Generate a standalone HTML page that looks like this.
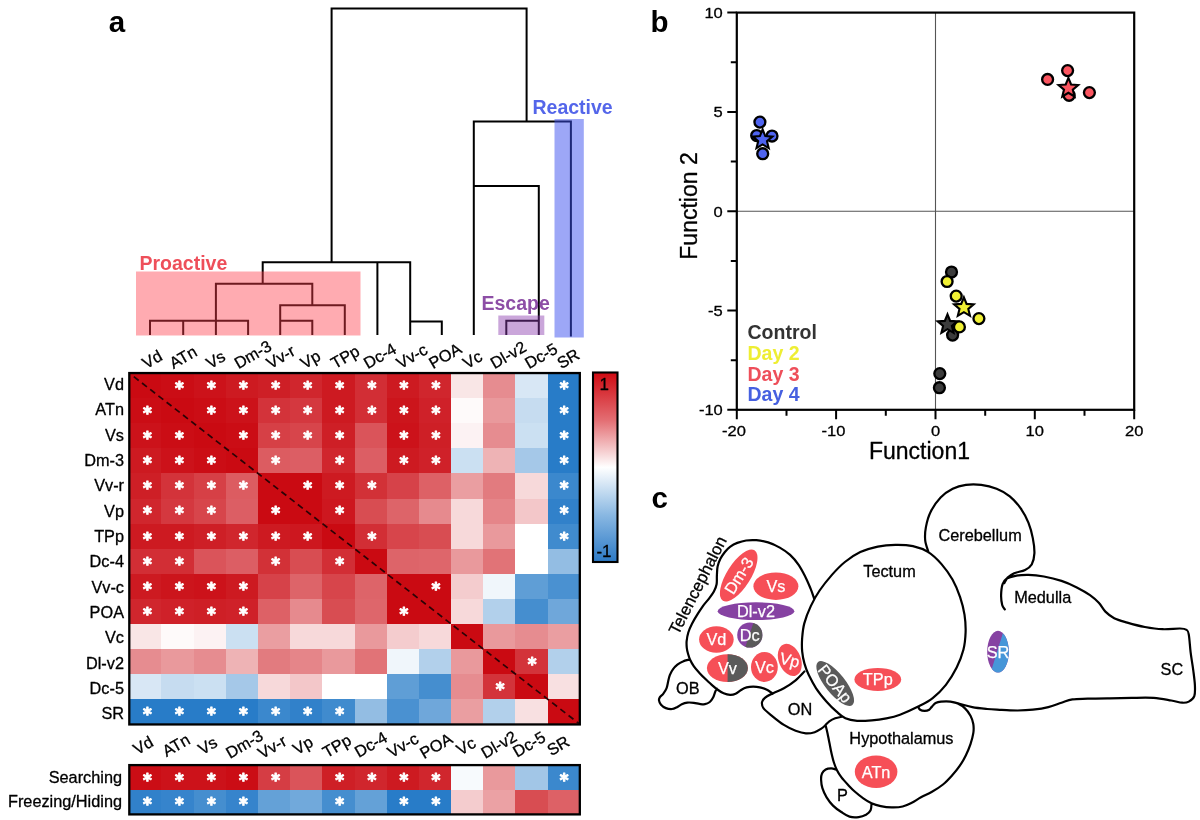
<!DOCTYPE html>
<html><head><meta charset="utf-8"><title>Figure</title>
<style>html,body{margin:0;padding:0;background:#fff}svg{display:block}text{stroke-linejoin:round}.k{stroke:#000;stroke-width:.3px}.w{stroke:#fff;stroke-width:.25px}</style></head>
<body>
<svg width="1200" height="820" viewBox="0 0 1200 820" font-family="'Liberation Sans', sans-serif">
<rect width="1200" height="820" fill="#fff"/>
<text x="108.8" y="31.5" font-size="29.5" font-weight="bold" fill="#000">a</text>
<text x="650.6" y="32" font-size="29.5" font-weight="bold" fill="#000">b</text>
<text x="651.6" y="507.6" font-size="29.5" font-weight="bold" fill="#000">c</text>
<path d="M331.6 8.5H526.6M331.6 7.5V262.0M526.6 7.5V121.5M473.8 121.5H570.9M570.9 120.5V336.5M473.8 120.5V335.0M473.8 186.0H538.8M538.8 185.0V335.0M506.3 320.8H538.8M506.3 319.8V335.0M262.7 262.3H410.2M262.7 261.3V283.8M377.4 262.0V335.0M410.2 261.3V335.0M410.2 321.4H441.8M441.8 320.4V335.0M215.9 283.8H312.3M215.9 282.8V335.0M312.3 282.8V305.2M150.0 320.8H248.1M150.0 319.8V335.0M183.2 320.8V335.0M248.1 319.8V335.0M280.2 305.2H344.8M280.2 304.2V335.0M344.8 304.2V335.0M280.2 320.8H312.3M312.3 319.8V335.0" fill="none" stroke="#000" stroke-width="2"/>
<rect x="136" y="271.5" width="224.5" height="64" fill="#ff3c4b" fill-opacity="0.43"/>
<rect x="498.3" y="315.5" width="46" height="19.5" fill="#8a3aae" fill-opacity="0.45"/>
<rect x="554.5" y="119" width="29.3" height="218.5" fill="#3c50f0" fill-opacity="0.5"/>
<text x="139.5" y="270" font-size="19.5" font-weight="bold" fill="#ee4f5a">Proactive</text>
<text x="481.5" y="310" font-size="19.5" font-weight="bold" fill="#8d4ea6">Escape</text>
<text x="532.5" y="114" font-size="19.5" font-weight="bold" fill="#5466ea">Reactive</text>
<text class="k" transform="translate(146.3 369.3) rotate(-30)" font-size="16.3" fill="#000">Vd</text>
<text class="k" transform="translate(173.5 369.3) rotate(-30)" font-size="16.3" fill="#000">ATn</text>
<text class="k" transform="translate(210.2 369.3) rotate(-30)" font-size="16.3" fill="#000">Vs</text>
<text class="k" transform="translate(238.4 369.3) rotate(-30)" font-size="16.3" fill="#000">Dm-3</text>
<text class="k" transform="translate(270.5 369.3) rotate(-30)" font-size="16.3" fill="#000">Vv-r</text>
<text class="k" transform="translate(304.6 369.3) rotate(-30)" font-size="16.3" fill="#000">Vp</text>
<text class="k" transform="translate(335.1 369.3) rotate(-30)" font-size="16.3" fill="#000">TPp</text>
<text class="k" transform="translate(367.7 369.3) rotate(-30)" font-size="16.3" fill="#000">Dc-4</text>
<text class="k" transform="translate(400.5 369.3) rotate(-30)" font-size="16.3" fill="#000">Vv-c</text>
<text class="k" transform="translate(433.1 369.3) rotate(-30)" font-size="16.3" fill="#000">POA</text>
<text class="k" transform="translate(467.1 369.3) rotate(-30)" font-size="16.3" fill="#000">Vc</text>
<text class="k" transform="translate(494.6 369.3) rotate(-30)" font-size="16.3" fill="#000">Dl-v2</text>
<text class="k" transform="translate(529.1 369.3) rotate(-30)" font-size="16.3" fill="#000">Dc-5</text>
<text class="k" transform="translate(561.2 369.3) rotate(-30)" font-size="16.3" fill="#000">SR</text>
<text class="k" transform="translate(137.3 755.3) rotate(-30)" font-size="16.3" fill="#000">Vd</text>
<text class="k" transform="translate(166.5 757.3) rotate(-30)" font-size="16.3" fill="#000">ATn</text>
<text class="k" transform="translate(202.2 755.3) rotate(-30)" font-size="16.3" fill="#000">Vs</text>
<text class="k" transform="translate(230.0 758.9) rotate(-30)" font-size="16.3" fill="#000">Dm-3</text>
<text class="k" transform="translate(262.1 759.3) rotate(-30)" font-size="16.3" fill="#000">Vv-r</text>
<text class="k" transform="translate(297.0 755.3) rotate(-30)" font-size="16.3" fill="#000">Vp</text>
<text class="k" transform="translate(326.7 758.3) rotate(-30)" font-size="16.3" fill="#000">TPp</text>
<text class="k" transform="translate(358.7 757.9) rotate(-30)" font-size="16.3" fill="#000">Dc-4</text>
<text class="k" transform="translate(391.5 758.3) rotate(-30)" font-size="16.3" fill="#000">Vv-c</text>
<text class="k" transform="translate(424.1 759.3) rotate(-30)" font-size="16.3" fill="#000">POA</text>
<text class="k" transform="translate(460.5 755.7) rotate(-30)" font-size="16.3" fill="#000">Vc</text>
<text class="k" transform="translate(485.2 758.9) rotate(-30)" font-size="16.3" fill="#000">Dl-v2</text>
<text class="k" transform="translate(517.1 757.7) rotate(-30)" font-size="16.3" fill="#000">Dc-5</text>
<text class="k" transform="translate(551.2 756.3) rotate(-30)" font-size="16.3" fill="#000">SR</text>
<rect x="129.30" y="373.05" width="32.48" height="25.40" fill="#ca0a12" shape-rendering="crispEdges"/>
<rect x="161.48" y="373.05" width="32.48" height="25.40" fill="#cb0d15" shape-rendering="crispEdges"/>
<rect x="193.66" y="373.05" width="32.48" height="25.40" fill="#cc121a" shape-rendering="crispEdges"/>
<rect x="225.84" y="373.05" width="32.48" height="25.40" fill="#cd1a21" shape-rendering="crispEdges"/>
<rect x="258.02" y="373.05" width="32.48" height="25.40" fill="#ce1f26" shape-rendering="crispEdges"/>
<rect x="290.20" y="373.05" width="32.48" height="25.40" fill="#d0262d" shape-rendering="crispEdges"/>
<rect x="322.38" y="373.05" width="32.48" height="25.40" fill="#cd1a21" shape-rendering="crispEdges"/>
<rect x="354.56" y="373.05" width="32.48" height="25.40" fill="#d22e35" shape-rendering="crispEdges"/>
<rect x="386.74" y="373.05" width="32.48" height="25.40" fill="#cd1a21" shape-rendering="crispEdges"/>
<rect x="418.92" y="373.05" width="32.48" height="25.40" fill="#d0262d" shape-rendering="crispEdges"/>
<rect x="451.10" y="373.05" width="32.48" height="25.40" fill="#f9e6e6" shape-rendering="crispEdges"/>
<rect x="483.28" y="373.05" width="32.48" height="25.40" fill="#e68c90" shape-rendering="crispEdges"/>
<rect x="515.46" y="373.05" width="32.48" height="25.40" fill="#d8e7f5" shape-rendering="crispEdges"/>
<rect x="547.64" y="373.05" width="32.48" height="25.40" fill="#287cc8" shape-rendering="crispEdges"/>
<rect x="129.30" y="398.15" width="32.48" height="25.40" fill="#cb0d15" shape-rendering="crispEdges"/>
<rect x="161.48" y="398.15" width="32.48" height="25.40" fill="#ca0a12" shape-rendering="crispEdges"/>
<rect x="193.66" y="398.15" width="32.48" height="25.40" fill="#cb0d15" shape-rendering="crispEdges"/>
<rect x="225.84" y="398.15" width="32.48" height="25.40" fill="#cc121a" shape-rendering="crispEdges"/>
<rect x="258.02" y="398.15" width="32.48" height="25.40" fill="#d3333a" shape-rendering="crispEdges"/>
<rect x="290.20" y="398.15" width="32.48" height="25.40" fill="#d4383f" shape-rendering="crispEdges"/>
<rect x="322.38" y="398.15" width="32.48" height="25.40" fill="#cd1a21" shape-rendering="crispEdges"/>
<rect x="354.56" y="398.15" width="32.48" height="25.40" fill="#d22e35" shape-rendering="crispEdges"/>
<rect x="386.74" y="398.15" width="32.48" height="25.40" fill="#cc151c" shape-rendering="crispEdges"/>
<rect x="418.92" y="398.15" width="32.48" height="25.40" fill="#cf2129" shape-rendering="crispEdges"/>
<rect x="451.10" y="398.15" width="32.48" height="25.40" fill="#fefafa" shape-rendering="crispEdges"/>
<rect x="483.28" y="398.15" width="32.48" height="25.40" fill="#e9999c" shape-rendering="crispEdges"/>
<rect x="515.46" y="398.15" width="32.48" height="25.40" fill="#c6dcf0" shape-rendering="crispEdges"/>
<rect x="547.64" y="398.15" width="32.48" height="25.40" fill="#287cc8" shape-rendering="crispEdges"/>
<rect x="129.30" y="423.25" width="32.48" height="25.40" fill="#cc121a" shape-rendering="crispEdges"/>
<rect x="161.48" y="423.25" width="32.48" height="25.40" fill="#cb0d15" shape-rendering="crispEdges"/>
<rect x="193.66" y="423.25" width="32.48" height="25.40" fill="#ca0a12" shape-rendering="crispEdges"/>
<rect x="225.84" y="423.25" width="32.48" height="25.40" fill="#cb0d15" shape-rendering="crispEdges"/>
<rect x="258.02" y="423.25" width="32.48" height="25.40" fill="#d64046" shape-rendering="crispEdges"/>
<rect x="290.20" y="423.25" width="32.48" height="25.40" fill="#d7454b" shape-rendering="crispEdges"/>
<rect x="322.38" y="423.25" width="32.48" height="25.40" fill="#ce1f26" shape-rendering="crispEdges"/>
<rect x="354.56" y="423.25" width="32.48" height="25.40" fill="#da545a" shape-rendering="crispEdges"/>
<rect x="386.74" y="423.25" width="32.48" height="25.40" fill="#cc121a" shape-rendering="crispEdges"/>
<rect x="418.92" y="423.25" width="32.48" height="25.40" fill="#ce1f26" shape-rendering="crispEdges"/>
<rect x="451.10" y="423.25" width="32.48" height="25.40" fill="#fcf2f3" shape-rendering="crispEdges"/>
<rect x="483.28" y="423.25" width="32.48" height="25.40" fill="#e68c90" shape-rendering="crispEdges"/>
<rect x="515.46" y="423.25" width="32.48" height="25.40" fill="#cbe0f2" shape-rendering="crispEdges"/>
<rect x="547.64" y="423.25" width="32.48" height="25.40" fill="#287cc8" shape-rendering="crispEdges"/>
<rect x="129.30" y="448.35" width="32.48" height="25.40" fill="#cd1a21" shape-rendering="crispEdges"/>
<rect x="161.48" y="448.35" width="32.48" height="25.40" fill="#cc121a" shape-rendering="crispEdges"/>
<rect x="193.66" y="448.35" width="32.48" height="25.40" fill="#cb0d15" shape-rendering="crispEdges"/>
<rect x="225.84" y="448.35" width="32.48" height="25.40" fill="#ca0a12" shape-rendering="crispEdges"/>
<rect x="258.02" y="448.35" width="32.48" height="25.40" fill="#dc5c61" shape-rendering="crispEdges"/>
<rect x="290.20" y="448.35" width="32.48" height="25.40" fill="#dc5e64" shape-rendering="crispEdges"/>
<rect x="322.38" y="448.35" width="32.48" height="25.40" fill="#d0262d" shape-rendering="crispEdges"/>
<rect x="354.56" y="448.35" width="32.48" height="25.40" fill="#dc5e64" shape-rendering="crispEdges"/>
<rect x="386.74" y="448.35" width="32.48" height="25.40" fill="#cd1a21" shape-rendering="crispEdges"/>
<rect x="418.92" y="448.35" width="32.48" height="25.40" fill="#cf2129" shape-rendering="crispEdges"/>
<rect x="451.10" y="448.35" width="32.48" height="25.40" fill="#cbe0f2" shape-rendering="crispEdges"/>
<rect x="483.28" y="448.35" width="32.48" height="25.40" fill="#eeb3b5" shape-rendering="crispEdges"/>
<rect x="515.46" y="448.35" width="32.48" height="25.40" fill="#a5c8e8" shape-rendering="crispEdges"/>
<rect x="547.64" y="448.35" width="32.48" height="25.40" fill="#287cc8" shape-rendering="crispEdges"/>
<rect x="129.30" y="473.45" width="32.48" height="25.40" fill="#ce1f26" shape-rendering="crispEdges"/>
<rect x="161.48" y="473.45" width="32.48" height="25.40" fill="#d3333a" shape-rendering="crispEdges"/>
<rect x="193.66" y="473.45" width="32.48" height="25.40" fill="#d64046" shape-rendering="crispEdges"/>
<rect x="225.84" y="473.45" width="32.48" height="25.40" fill="#dc5c61" shape-rendering="crispEdges"/>
<rect x="258.02" y="473.45" width="32.48" height="25.40" fill="#ca0a12" shape-rendering="crispEdges"/>
<rect x="290.20" y="473.45" width="32.48" height="25.40" fill="#ca0a12" shape-rendering="crispEdges"/>
<rect x="322.38" y="473.45" width="32.48" height="25.40" fill="#cd1a21" shape-rendering="crispEdges"/>
<rect x="354.56" y="473.45" width="32.48" height="25.40" fill="#d23137" shape-rendering="crispEdges"/>
<rect x="386.74" y="473.45" width="32.48" height="25.40" fill="#d64249" shape-rendering="crispEdges"/>
<rect x="418.92" y="473.45" width="32.48" height="25.40" fill="#dd6166" shape-rendering="crispEdges"/>
<rect x="451.10" y="473.45" width="32.48" height="25.40" fill="#ea9ea1" shape-rendering="crispEdges"/>
<rect x="483.28" y="473.45" width="32.48" height="25.40" fill="#e27b7f" shape-rendering="crispEdges"/>
<rect x="515.46" y="473.45" width="32.48" height="25.40" fill="#f7d9da" shape-rendering="crispEdges"/>
<rect x="547.64" y="473.45" width="32.48" height="25.40" fill="#3b88cd" shape-rendering="crispEdges"/>
<rect x="129.30" y="498.55" width="32.48" height="25.40" fill="#d0262d" shape-rendering="crispEdges"/>
<rect x="161.48" y="498.55" width="32.48" height="25.40" fill="#d4383f" shape-rendering="crispEdges"/>
<rect x="193.66" y="498.55" width="32.48" height="25.40" fill="#d7454b" shape-rendering="crispEdges"/>
<rect x="225.84" y="498.55" width="32.48" height="25.40" fill="#dc5e64" shape-rendering="crispEdges"/>
<rect x="258.02" y="498.55" width="32.48" height="25.40" fill="#ca0a12" shape-rendering="crispEdges"/>
<rect x="290.20" y="498.55" width="32.48" height="25.40" fill="#ca0a12" shape-rendering="crispEdges"/>
<rect x="322.38" y="498.55" width="32.48" height="25.40" fill="#cd171f" shape-rendering="crispEdges"/>
<rect x="354.56" y="498.55" width="32.48" height="25.40" fill="#d84d52" shape-rendering="crispEdges"/>
<rect x="386.74" y="498.55" width="32.48" height="25.40" fill="#dd6469" shape-rendering="crispEdges"/>
<rect x="418.92" y="498.55" width="32.48" height="25.40" fill="#e68a8e" shape-rendering="crispEdges"/>
<rect x="451.10" y="498.55" width="32.48" height="25.40" fill="#f7d9da" shape-rendering="crispEdges"/>
<rect x="483.28" y="498.55" width="32.48" height="25.40" fill="#e58589" shape-rendering="crispEdges"/>
<rect x="515.46" y="498.55" width="32.48" height="25.40" fill="#f3c7c9" shape-rendering="crispEdges"/>
<rect x="547.64" y="498.55" width="32.48" height="25.40" fill="#3181ca" shape-rendering="crispEdges"/>
<rect x="129.30" y="523.65" width="32.48" height="25.40" fill="#cd1a21" shape-rendering="crispEdges"/>
<rect x="161.48" y="523.65" width="32.48" height="25.40" fill="#cd1a21" shape-rendering="crispEdges"/>
<rect x="193.66" y="523.65" width="32.48" height="25.40" fill="#ce1f26" shape-rendering="crispEdges"/>
<rect x="225.84" y="523.65" width="32.48" height="25.40" fill="#d0262d" shape-rendering="crispEdges"/>
<rect x="258.02" y="523.65" width="32.48" height="25.40" fill="#cd1a21" shape-rendering="crispEdges"/>
<rect x="290.20" y="523.65" width="32.48" height="25.40" fill="#cd171f" shape-rendering="crispEdges"/>
<rect x="322.38" y="523.65" width="32.48" height="25.40" fill="#ca0a12" shape-rendering="crispEdges"/>
<rect x="354.56" y="523.65" width="32.48" height="25.40" fill="#d22e35" shape-rendering="crispEdges"/>
<rect x="386.74" y="523.65" width="32.48" height="25.40" fill="#d7454b" shape-rendering="crispEdges"/>
<rect x="418.92" y="523.65" width="32.48" height="25.40" fill="#d84d52" shape-rendering="crispEdges"/>
<rect x="451.10" y="523.65" width="32.48" height="25.40" fill="#f7d9da" shape-rendering="crispEdges"/>
<rect x="483.28" y="523.65" width="32.48" height="25.40" fill="#e9999c" shape-rendering="crispEdges"/>
<rect x="515.46" y="523.65" width="32.48" height="25.40" fill="#ffffff" shape-rendering="crispEdges"/>
<rect x="547.64" y="523.65" width="32.48" height="25.40" fill="#408bce" shape-rendering="crispEdges"/>
<rect x="129.30" y="548.75" width="32.48" height="25.40" fill="#d22e35" shape-rendering="crispEdges"/>
<rect x="161.48" y="548.75" width="32.48" height="25.40" fill="#d22e35" shape-rendering="crispEdges"/>
<rect x="193.66" y="548.75" width="32.48" height="25.40" fill="#da545a" shape-rendering="crispEdges"/>
<rect x="225.84" y="548.75" width="32.48" height="25.40" fill="#dc5e64" shape-rendering="crispEdges"/>
<rect x="258.02" y="548.75" width="32.48" height="25.40" fill="#d23137" shape-rendering="crispEdges"/>
<rect x="290.20" y="548.75" width="32.48" height="25.40" fill="#d84d52" shape-rendering="crispEdges"/>
<rect x="322.38" y="548.75" width="32.48" height="25.40" fill="#d22e35" shape-rendering="crispEdges"/>
<rect x="354.56" y="548.75" width="32.48" height="25.40" fill="#ca0a12" shape-rendering="crispEdges"/>
<rect x="386.74" y="548.75" width="32.48" height="25.40" fill="#dd6469" shape-rendering="crispEdges"/>
<rect x="418.92" y="548.75" width="32.48" height="25.40" fill="#de666b" shape-rendering="crispEdges"/>
<rect x="451.10" y="548.75" width="32.48" height="25.40" fill="#e9999c" shape-rendering="crispEdges"/>
<rect x="483.28" y="548.75" width="32.48" height="25.40" fill="#e17377" shape-rendering="crispEdges"/>
<rect x="515.46" y="548.75" width="32.48" height="25.40" fill="#ffffff" shape-rendering="crispEdges"/>
<rect x="547.64" y="548.75" width="32.48" height="25.40" fill="#93bde3" shape-rendering="crispEdges"/>
<rect x="129.30" y="573.85" width="32.48" height="25.40" fill="#cd1a21" shape-rendering="crispEdges"/>
<rect x="161.48" y="573.85" width="32.48" height="25.40" fill="#cc151c" shape-rendering="crispEdges"/>
<rect x="193.66" y="573.85" width="32.48" height="25.40" fill="#cc121a" shape-rendering="crispEdges"/>
<rect x="225.84" y="573.85" width="32.48" height="25.40" fill="#cd1a21" shape-rendering="crispEdges"/>
<rect x="258.02" y="573.85" width="32.48" height="25.40" fill="#d64249" shape-rendering="crispEdges"/>
<rect x="290.20" y="573.85" width="32.48" height="25.40" fill="#dd6469" shape-rendering="crispEdges"/>
<rect x="322.38" y="573.85" width="32.48" height="25.40" fill="#d7454b" shape-rendering="crispEdges"/>
<rect x="354.56" y="573.85" width="32.48" height="25.40" fill="#dd6469" shape-rendering="crispEdges"/>
<rect x="386.74" y="573.85" width="32.48" height="25.40" fill="#ca0a12" shape-rendering="crispEdges"/>
<rect x="418.92" y="573.85" width="32.48" height="25.40" fill="#ca0a12" shape-rendering="crispEdges"/>
<rect x="451.10" y="573.85" width="32.48" height="25.40" fill="#f4ccce" shape-rendering="crispEdges"/>
<rect x="483.28" y="573.85" width="32.48" height="25.40" fill="#f0f6fb" shape-rendering="crispEdges"/>
<rect x="515.46" y="573.85" width="32.48" height="25.40" fill="#5f9ed6" shape-rendering="crispEdges"/>
<rect x="547.64" y="573.85" width="32.48" height="25.40" fill="#4a91d1" shape-rendering="crispEdges"/>
<rect x="129.30" y="598.95" width="32.48" height="25.40" fill="#d0262d" shape-rendering="crispEdges"/>
<rect x="161.48" y="598.95" width="32.48" height="25.40" fill="#cf2129" shape-rendering="crispEdges"/>
<rect x="193.66" y="598.95" width="32.48" height="25.40" fill="#ce1f26" shape-rendering="crispEdges"/>
<rect x="225.84" y="598.95" width="32.48" height="25.40" fill="#cf2129" shape-rendering="crispEdges"/>
<rect x="258.02" y="598.95" width="32.48" height="25.40" fill="#dd6166" shape-rendering="crispEdges"/>
<rect x="290.20" y="598.95" width="32.48" height="25.40" fill="#e68a8e" shape-rendering="crispEdges"/>
<rect x="322.38" y="598.95" width="32.48" height="25.40" fill="#d84d52" shape-rendering="crispEdges"/>
<rect x="354.56" y="598.95" width="32.48" height="25.40" fill="#de666b" shape-rendering="crispEdges"/>
<rect x="386.74" y="598.95" width="32.48" height="25.40" fill="#ca0a12" shape-rendering="crispEdges"/>
<rect x="418.92" y="598.95" width="32.48" height="25.40" fill="#ca0a12" shape-rendering="crispEdges"/>
<rect x="451.10" y="598.95" width="32.48" height="25.40" fill="#f7d9da" shape-rendering="crispEdges"/>
<rect x="483.28" y="598.95" width="32.48" height="25.40" fill="#b2d0eb" shape-rendering="crispEdges"/>
<rect x="515.46" y="598.95" width="32.48" height="25.40" fill="#458ecf" shape-rendering="crispEdges"/>
<rect x="547.64" y="598.95" width="32.48" height="25.40" fill="#6fa7da" shape-rendering="crispEdges"/>
<rect x="129.30" y="624.05" width="32.48" height="25.40" fill="#f9e6e6" shape-rendering="crispEdges"/>
<rect x="161.48" y="624.05" width="32.48" height="25.40" fill="#fefafa" shape-rendering="crispEdges"/>
<rect x="193.66" y="624.05" width="32.48" height="25.40" fill="#fcf2f3" shape-rendering="crispEdges"/>
<rect x="225.84" y="624.05" width="32.48" height="25.40" fill="#cbe0f2" shape-rendering="crispEdges"/>
<rect x="258.02" y="624.05" width="32.48" height="25.40" fill="#ea9ea1" shape-rendering="crispEdges"/>
<rect x="290.20" y="624.05" width="32.48" height="25.40" fill="#f7d9da" shape-rendering="crispEdges"/>
<rect x="322.38" y="624.05" width="32.48" height="25.40" fill="#f7d9da" shape-rendering="crispEdges"/>
<rect x="354.56" y="624.05" width="32.48" height="25.40" fill="#e9999c" shape-rendering="crispEdges"/>
<rect x="386.74" y="624.05" width="32.48" height="25.40" fill="#f4ccce" shape-rendering="crispEdges"/>
<rect x="418.92" y="624.05" width="32.48" height="25.40" fill="#f7d9da" shape-rendering="crispEdges"/>
<rect x="451.10" y="624.05" width="32.48" height="25.40" fill="#ca0a12" shape-rendering="crispEdges"/>
<rect x="483.28" y="624.05" width="32.48" height="25.40" fill="#e9999c" shape-rendering="crispEdges"/>
<rect x="515.46" y="624.05" width="32.48" height="25.40" fill="#e68c90" shape-rendering="crispEdges"/>
<rect x="547.64" y="624.05" width="32.48" height="25.40" fill="#ea9ea1" shape-rendering="crispEdges"/>
<rect x="129.30" y="649.15" width="32.48" height="25.40" fill="#e68c90" shape-rendering="crispEdges"/>
<rect x="161.48" y="649.15" width="32.48" height="25.40" fill="#e9999c" shape-rendering="crispEdges"/>
<rect x="193.66" y="649.15" width="32.48" height="25.40" fill="#e68c90" shape-rendering="crispEdges"/>
<rect x="225.84" y="649.15" width="32.48" height="25.40" fill="#eeb3b5" shape-rendering="crispEdges"/>
<rect x="258.02" y="649.15" width="32.48" height="25.40" fill="#e27b7f" shape-rendering="crispEdges"/>
<rect x="290.20" y="649.15" width="32.48" height="25.40" fill="#e58589" shape-rendering="crispEdges"/>
<rect x="322.38" y="649.15" width="32.48" height="25.40" fill="#e9999c" shape-rendering="crispEdges"/>
<rect x="354.56" y="649.15" width="32.48" height="25.40" fill="#e17377" shape-rendering="crispEdges"/>
<rect x="386.74" y="649.15" width="32.48" height="25.40" fill="#f0f6fb" shape-rendering="crispEdges"/>
<rect x="418.92" y="649.15" width="32.48" height="25.40" fill="#b2d0eb" shape-rendering="crispEdges"/>
<rect x="451.10" y="649.15" width="32.48" height="25.40" fill="#e9999c" shape-rendering="crispEdges"/>
<rect x="483.28" y="649.15" width="32.48" height="25.40" fill="#ca0a12" shape-rendering="crispEdges"/>
<rect x="515.46" y="649.15" width="32.48" height="25.40" fill="#d3333a" shape-rendering="crispEdges"/>
<rect x="547.64" y="649.15" width="32.48" height="25.40" fill="#b2d0eb" shape-rendering="crispEdges"/>
<rect x="129.30" y="674.25" width="32.48" height="25.40" fill="#d8e7f5" shape-rendering="crispEdges"/>
<rect x="161.48" y="674.25" width="32.48" height="25.40" fill="#c6dcf0" shape-rendering="crispEdges"/>
<rect x="193.66" y="674.25" width="32.48" height="25.40" fill="#cbe0f2" shape-rendering="crispEdges"/>
<rect x="225.84" y="674.25" width="32.48" height="25.40" fill="#a5c8e8" shape-rendering="crispEdges"/>
<rect x="258.02" y="674.25" width="32.48" height="25.40" fill="#f7d9da" shape-rendering="crispEdges"/>
<rect x="290.20" y="674.25" width="32.48" height="25.40" fill="#f3c7c9" shape-rendering="crispEdges"/>
<rect x="322.38" y="674.25" width="32.48" height="25.40" fill="#ffffff" shape-rendering="crispEdges"/>
<rect x="354.56" y="674.25" width="32.48" height="25.40" fill="#ffffff" shape-rendering="crispEdges"/>
<rect x="386.74" y="674.25" width="32.48" height="25.40" fill="#5f9ed6" shape-rendering="crispEdges"/>
<rect x="418.92" y="674.25" width="32.48" height="25.40" fill="#458ecf" shape-rendering="crispEdges"/>
<rect x="451.10" y="674.25" width="32.48" height="25.40" fill="#e68c90" shape-rendering="crispEdges"/>
<rect x="483.28" y="674.25" width="32.48" height="25.40" fill="#d3333a" shape-rendering="crispEdges"/>
<rect x="515.46" y="674.25" width="32.48" height="25.40" fill="#ca0a12" shape-rendering="crispEdges"/>
<rect x="547.64" y="674.25" width="32.48" height="25.40" fill="#f8e0e1" shape-rendering="crispEdges"/>
<rect x="129.30" y="699.35" width="32.48" height="25.40" fill="#287cc8" shape-rendering="crispEdges"/>
<rect x="161.48" y="699.35" width="32.48" height="25.40" fill="#287cc8" shape-rendering="crispEdges"/>
<rect x="193.66" y="699.35" width="32.48" height="25.40" fill="#287cc8" shape-rendering="crispEdges"/>
<rect x="225.84" y="699.35" width="32.48" height="25.40" fill="#287cc8" shape-rendering="crispEdges"/>
<rect x="258.02" y="699.35" width="32.48" height="25.40" fill="#3b88cd" shape-rendering="crispEdges"/>
<rect x="290.20" y="699.35" width="32.48" height="25.40" fill="#3181ca" shape-rendering="crispEdges"/>
<rect x="322.38" y="699.35" width="32.48" height="25.40" fill="#408bce" shape-rendering="crispEdges"/>
<rect x="354.56" y="699.35" width="32.48" height="25.40" fill="#93bde3" shape-rendering="crispEdges"/>
<rect x="386.74" y="699.35" width="32.48" height="25.40" fill="#4a91d1" shape-rendering="crispEdges"/>
<rect x="418.92" y="699.35" width="32.48" height="25.40" fill="#6fa7da" shape-rendering="crispEdges"/>
<rect x="451.10" y="699.35" width="32.48" height="25.40" fill="#ea9ea1" shape-rendering="crispEdges"/>
<rect x="483.28" y="699.35" width="32.48" height="25.40" fill="#b2d0eb" shape-rendering="crispEdges"/>
<rect x="515.46" y="699.35" width="32.48" height="25.40" fill="#f8e0e1" shape-rendering="crispEdges"/>
<rect x="547.64" y="699.35" width="32.48" height="25.40" fill="#ca0a12" shape-rendering="crispEdges"/>
<text x="179.4" y="393.9" text-anchor="middle" font-size="16.8" font-weight="bold" font-family="'DejaVu Sans', sans-serif" fill="#fff" stroke="#fff" stroke-width="1" stroke-linejoin="round">*</text>
<text x="211.4" y="393.9" text-anchor="middle" font-size="16.8" font-weight="bold" font-family="'DejaVu Sans', sans-serif" fill="#fff" stroke="#fff" stroke-width="1" stroke-linejoin="round">*</text>
<text x="243.5" y="393.9" text-anchor="middle" font-size="16.8" font-weight="bold" font-family="'DejaVu Sans', sans-serif" fill="#fff" stroke="#fff" stroke-width="1" stroke-linejoin="round">*</text>
<text x="275.6" y="393.9" text-anchor="middle" font-size="16.8" font-weight="bold" font-family="'DejaVu Sans', sans-serif" fill="#fff" stroke="#fff" stroke-width="1" stroke-linejoin="round">*</text>
<text x="307.6" y="393.9" text-anchor="middle" font-size="16.8" font-weight="bold" font-family="'DejaVu Sans', sans-serif" fill="#fff" stroke="#fff" stroke-width="1" stroke-linejoin="round">*</text>
<text x="339.7" y="393.9" text-anchor="middle" font-size="16.8" font-weight="bold" font-family="'DejaVu Sans', sans-serif" fill="#fff" stroke="#fff" stroke-width="1" stroke-linejoin="round">*</text>
<text x="371.8" y="393.9" text-anchor="middle" font-size="16.8" font-weight="bold" font-family="'DejaVu Sans', sans-serif" fill="#fff" stroke="#fff" stroke-width="1" stroke-linejoin="round">*</text>
<text x="403.9" y="393.9" text-anchor="middle" font-size="16.8" font-weight="bold" font-family="'DejaVu Sans', sans-serif" fill="#fff" stroke="#fff" stroke-width="1" stroke-linejoin="round">*</text>
<text x="435.9" y="393.9" text-anchor="middle" font-size="16.8" font-weight="bold" font-family="'DejaVu Sans', sans-serif" fill="#fff" stroke="#fff" stroke-width="1" stroke-linejoin="round">*</text>
<text x="564.2" y="393.9" text-anchor="middle" font-size="16.8" font-weight="bold" font-family="'DejaVu Sans', sans-serif" fill="#fff" stroke="#fff" stroke-width="1" stroke-linejoin="round">*</text>
<text class="k" x="124.0" y="390.0" text-anchor="end" font-size="16.3" fill="#000">Vd</text>
<text x="147.3" y="419.0" text-anchor="middle" font-size="16.8" font-weight="bold" font-family="'DejaVu Sans', sans-serif" fill="#fff" stroke="#fff" stroke-width="1" stroke-linejoin="round">*</text>
<text x="211.4" y="419.0" text-anchor="middle" font-size="16.8" font-weight="bold" font-family="'DejaVu Sans', sans-serif" fill="#fff" stroke="#fff" stroke-width="1" stroke-linejoin="round">*</text>
<text x="243.5" y="419.0" text-anchor="middle" font-size="16.8" font-weight="bold" font-family="'DejaVu Sans', sans-serif" fill="#fff" stroke="#fff" stroke-width="1" stroke-linejoin="round">*</text>
<text x="275.6" y="419.0" text-anchor="middle" font-size="16.8" font-weight="bold" font-family="'DejaVu Sans', sans-serif" fill="#fff" stroke="#fff" stroke-width="1" stroke-linejoin="round">*</text>
<text x="307.6" y="419.0" text-anchor="middle" font-size="16.8" font-weight="bold" font-family="'DejaVu Sans', sans-serif" fill="#fff" stroke="#fff" stroke-width="1" stroke-linejoin="round">*</text>
<text x="339.7" y="419.0" text-anchor="middle" font-size="16.8" font-weight="bold" font-family="'DejaVu Sans', sans-serif" fill="#fff" stroke="#fff" stroke-width="1" stroke-linejoin="round">*</text>
<text x="371.8" y="419.0" text-anchor="middle" font-size="16.8" font-weight="bold" font-family="'DejaVu Sans', sans-serif" fill="#fff" stroke="#fff" stroke-width="1" stroke-linejoin="round">*</text>
<text x="403.9" y="419.0" text-anchor="middle" font-size="16.8" font-weight="bold" font-family="'DejaVu Sans', sans-serif" fill="#fff" stroke="#fff" stroke-width="1" stroke-linejoin="round">*</text>
<text x="435.9" y="419.0" text-anchor="middle" font-size="16.8" font-weight="bold" font-family="'DejaVu Sans', sans-serif" fill="#fff" stroke="#fff" stroke-width="1" stroke-linejoin="round">*</text>
<text x="564.2" y="419.0" text-anchor="middle" font-size="16.8" font-weight="bold" font-family="'DejaVu Sans', sans-serif" fill="#fff" stroke="#fff" stroke-width="1" stroke-linejoin="round">*</text>
<text class="k" x="124.0" y="415.3" text-anchor="end" font-size="16.3" fill="#000">ATn</text>
<text x="147.3" y="444.1" text-anchor="middle" font-size="16.8" font-weight="bold" font-family="'DejaVu Sans', sans-serif" fill="#fff" stroke="#fff" stroke-width="1" stroke-linejoin="round">*</text>
<text x="179.4" y="444.1" text-anchor="middle" font-size="16.8" font-weight="bold" font-family="'DejaVu Sans', sans-serif" fill="#fff" stroke="#fff" stroke-width="1" stroke-linejoin="round">*</text>
<text x="243.5" y="444.1" text-anchor="middle" font-size="16.8" font-weight="bold" font-family="'DejaVu Sans', sans-serif" fill="#fff" stroke="#fff" stroke-width="1" stroke-linejoin="round">*</text>
<text x="275.6" y="444.1" text-anchor="middle" font-size="16.8" font-weight="bold" font-family="'DejaVu Sans', sans-serif" fill="#fff" stroke="#fff" stroke-width="1" stroke-linejoin="round">*</text>
<text x="307.6" y="444.1" text-anchor="middle" font-size="16.8" font-weight="bold" font-family="'DejaVu Sans', sans-serif" fill="#fff" stroke="#fff" stroke-width="1" stroke-linejoin="round">*</text>
<text x="339.7" y="444.1" text-anchor="middle" font-size="16.8" font-weight="bold" font-family="'DejaVu Sans', sans-serif" fill="#fff" stroke="#fff" stroke-width="1" stroke-linejoin="round">*</text>
<text x="403.9" y="444.1" text-anchor="middle" font-size="16.8" font-weight="bold" font-family="'DejaVu Sans', sans-serif" fill="#fff" stroke="#fff" stroke-width="1" stroke-linejoin="round">*</text>
<text x="435.9" y="444.1" text-anchor="middle" font-size="16.8" font-weight="bold" font-family="'DejaVu Sans', sans-serif" fill="#fff" stroke="#fff" stroke-width="1" stroke-linejoin="round">*</text>
<text x="564.2" y="444.1" text-anchor="middle" font-size="16.8" font-weight="bold" font-family="'DejaVu Sans', sans-serif" fill="#fff" stroke="#fff" stroke-width="1" stroke-linejoin="round">*</text>
<text class="k" x="124.0" y="440.7" text-anchor="end" font-size="16.3" fill="#000">Vs</text>
<text x="147.3" y="469.2" text-anchor="middle" font-size="16.8" font-weight="bold" font-family="'DejaVu Sans', sans-serif" fill="#fff" stroke="#fff" stroke-width="1" stroke-linejoin="round">*</text>
<text x="179.4" y="469.2" text-anchor="middle" font-size="16.8" font-weight="bold" font-family="'DejaVu Sans', sans-serif" fill="#fff" stroke="#fff" stroke-width="1" stroke-linejoin="round">*</text>
<text x="211.4" y="469.2" text-anchor="middle" font-size="16.8" font-weight="bold" font-family="'DejaVu Sans', sans-serif" fill="#fff" stroke="#fff" stroke-width="1" stroke-linejoin="round">*</text>
<text x="275.6" y="469.2" text-anchor="middle" font-size="16.8" font-weight="bold" font-family="'DejaVu Sans', sans-serif" fill="#fff" stroke="#fff" stroke-width="1" stroke-linejoin="round">*</text>
<text x="339.7" y="469.2" text-anchor="middle" font-size="16.8" font-weight="bold" font-family="'DejaVu Sans', sans-serif" fill="#fff" stroke="#fff" stroke-width="1" stroke-linejoin="round">*</text>
<text x="403.9" y="469.2" text-anchor="middle" font-size="16.8" font-weight="bold" font-family="'DejaVu Sans', sans-serif" fill="#fff" stroke="#fff" stroke-width="1" stroke-linejoin="round">*</text>
<text x="435.9" y="469.2" text-anchor="middle" font-size="16.8" font-weight="bold" font-family="'DejaVu Sans', sans-serif" fill="#fff" stroke="#fff" stroke-width="1" stroke-linejoin="round">*</text>
<text x="564.2" y="469.2" text-anchor="middle" font-size="16.8" font-weight="bold" font-family="'DejaVu Sans', sans-serif" fill="#fff" stroke="#fff" stroke-width="1" stroke-linejoin="round">*</text>
<text class="k" x="124.0" y="466.0" text-anchor="end" font-size="16.3" fill="#000">Dm-3</text>
<text x="147.3" y="494.3" text-anchor="middle" font-size="16.8" font-weight="bold" font-family="'DejaVu Sans', sans-serif" fill="#fff" stroke="#fff" stroke-width="1" stroke-linejoin="round">*</text>
<text x="179.4" y="494.3" text-anchor="middle" font-size="16.8" font-weight="bold" font-family="'DejaVu Sans', sans-serif" fill="#fff" stroke="#fff" stroke-width="1" stroke-linejoin="round">*</text>
<text x="211.4" y="494.3" text-anchor="middle" font-size="16.8" font-weight="bold" font-family="'DejaVu Sans', sans-serif" fill="#fff" stroke="#fff" stroke-width="1" stroke-linejoin="round">*</text>
<text x="243.5" y="494.3" text-anchor="middle" font-size="16.8" font-weight="bold" font-family="'DejaVu Sans', sans-serif" fill="#fff" stroke="#fff" stroke-width="1" stroke-linejoin="round">*</text>
<text x="307.6" y="494.3" text-anchor="middle" font-size="16.8" font-weight="bold" font-family="'DejaVu Sans', sans-serif" fill="#fff" stroke="#fff" stroke-width="1" stroke-linejoin="round">*</text>
<text x="339.7" y="494.3" text-anchor="middle" font-size="16.8" font-weight="bold" font-family="'DejaVu Sans', sans-serif" fill="#fff" stroke="#fff" stroke-width="1" stroke-linejoin="round">*</text>
<text x="371.8" y="494.3" text-anchor="middle" font-size="16.8" font-weight="bold" font-family="'DejaVu Sans', sans-serif" fill="#fff" stroke="#fff" stroke-width="1" stroke-linejoin="round">*</text>
<text x="564.2" y="494.3" text-anchor="middle" font-size="16.8" font-weight="bold" font-family="'DejaVu Sans', sans-serif" fill="#fff" stroke="#fff" stroke-width="1" stroke-linejoin="round">*</text>
<text class="k" x="124.0" y="491.3" text-anchor="end" font-size="16.3" fill="#000">Vv-r</text>
<text x="147.3" y="519.4" text-anchor="middle" font-size="16.8" font-weight="bold" font-family="'DejaVu Sans', sans-serif" fill="#fff" stroke="#fff" stroke-width="1" stroke-linejoin="round">*</text>
<text x="179.4" y="519.4" text-anchor="middle" font-size="16.8" font-weight="bold" font-family="'DejaVu Sans', sans-serif" fill="#fff" stroke="#fff" stroke-width="1" stroke-linejoin="round">*</text>
<text x="211.4" y="519.4" text-anchor="middle" font-size="16.8" font-weight="bold" font-family="'DejaVu Sans', sans-serif" fill="#fff" stroke="#fff" stroke-width="1" stroke-linejoin="round">*</text>
<text x="275.6" y="519.4" text-anchor="middle" font-size="16.8" font-weight="bold" font-family="'DejaVu Sans', sans-serif" fill="#fff" stroke="#fff" stroke-width="1" stroke-linejoin="round">*</text>
<text x="339.7" y="519.4" text-anchor="middle" font-size="16.8" font-weight="bold" font-family="'DejaVu Sans', sans-serif" fill="#fff" stroke="#fff" stroke-width="1" stroke-linejoin="round">*</text>
<text x="564.2" y="519.4" text-anchor="middle" font-size="16.8" font-weight="bold" font-family="'DejaVu Sans', sans-serif" fill="#fff" stroke="#fff" stroke-width="1" stroke-linejoin="round">*</text>
<text class="k" x="124.0" y="516.6" text-anchor="end" font-size="16.3" fill="#000">Vp</text>
<text x="147.3" y="544.5" text-anchor="middle" font-size="16.8" font-weight="bold" font-family="'DejaVu Sans', sans-serif" fill="#fff" stroke="#fff" stroke-width="1" stroke-linejoin="round">*</text>
<text x="179.4" y="544.5" text-anchor="middle" font-size="16.8" font-weight="bold" font-family="'DejaVu Sans', sans-serif" fill="#fff" stroke="#fff" stroke-width="1" stroke-linejoin="round">*</text>
<text x="211.4" y="544.5" text-anchor="middle" font-size="16.8" font-weight="bold" font-family="'DejaVu Sans', sans-serif" fill="#fff" stroke="#fff" stroke-width="1" stroke-linejoin="round">*</text>
<text x="243.5" y="544.5" text-anchor="middle" font-size="16.8" font-weight="bold" font-family="'DejaVu Sans', sans-serif" fill="#fff" stroke="#fff" stroke-width="1" stroke-linejoin="round">*</text>
<text x="275.6" y="544.5" text-anchor="middle" font-size="16.8" font-weight="bold" font-family="'DejaVu Sans', sans-serif" fill="#fff" stroke="#fff" stroke-width="1" stroke-linejoin="round">*</text>
<text x="307.6" y="544.5" text-anchor="middle" font-size="16.8" font-weight="bold" font-family="'DejaVu Sans', sans-serif" fill="#fff" stroke="#fff" stroke-width="1" stroke-linejoin="round">*</text>
<text x="371.8" y="544.5" text-anchor="middle" font-size="16.8" font-weight="bold" font-family="'DejaVu Sans', sans-serif" fill="#fff" stroke="#fff" stroke-width="1" stroke-linejoin="round">*</text>
<text x="564.2" y="544.5" text-anchor="middle" font-size="16.8" font-weight="bold" font-family="'DejaVu Sans', sans-serif" fill="#fff" stroke="#fff" stroke-width="1" stroke-linejoin="round">*</text>
<text class="k" x="124.0" y="542.0" text-anchor="end" font-size="16.3" fill="#000">TPp</text>
<text x="147.3" y="569.6" text-anchor="middle" font-size="16.8" font-weight="bold" font-family="'DejaVu Sans', sans-serif" fill="#fff" stroke="#fff" stroke-width="1" stroke-linejoin="round">*</text>
<text x="179.4" y="569.6" text-anchor="middle" font-size="16.8" font-weight="bold" font-family="'DejaVu Sans', sans-serif" fill="#fff" stroke="#fff" stroke-width="1" stroke-linejoin="round">*</text>
<text x="275.6" y="569.6" text-anchor="middle" font-size="16.8" font-weight="bold" font-family="'DejaVu Sans', sans-serif" fill="#fff" stroke="#fff" stroke-width="1" stroke-linejoin="round">*</text>
<text x="339.7" y="569.6" text-anchor="middle" font-size="16.8" font-weight="bold" font-family="'DejaVu Sans', sans-serif" fill="#fff" stroke="#fff" stroke-width="1" stroke-linejoin="round">*</text>
<text class="k" x="124.0" y="567.3" text-anchor="end" font-size="16.3" fill="#000">Dc-4</text>
<text x="147.3" y="594.7" text-anchor="middle" font-size="16.8" font-weight="bold" font-family="'DejaVu Sans', sans-serif" fill="#fff" stroke="#fff" stroke-width="1" stroke-linejoin="round">*</text>
<text x="179.4" y="594.7" text-anchor="middle" font-size="16.8" font-weight="bold" font-family="'DejaVu Sans', sans-serif" fill="#fff" stroke="#fff" stroke-width="1" stroke-linejoin="round">*</text>
<text x="211.4" y="594.7" text-anchor="middle" font-size="16.8" font-weight="bold" font-family="'DejaVu Sans', sans-serif" fill="#fff" stroke="#fff" stroke-width="1" stroke-linejoin="round">*</text>
<text x="243.5" y="594.7" text-anchor="middle" font-size="16.8" font-weight="bold" font-family="'DejaVu Sans', sans-serif" fill="#fff" stroke="#fff" stroke-width="1" stroke-linejoin="round">*</text>
<text x="435.9" y="594.7" text-anchor="middle" font-size="16.8" font-weight="bold" font-family="'DejaVu Sans', sans-serif" fill="#fff" stroke="#fff" stroke-width="1" stroke-linejoin="round">*</text>
<text class="k" x="124.0" y="592.6" text-anchor="end" font-size="16.3" fill="#000">Vv-c</text>
<text x="147.3" y="619.8" text-anchor="middle" font-size="16.8" font-weight="bold" font-family="'DejaVu Sans', sans-serif" fill="#fff" stroke="#fff" stroke-width="1" stroke-linejoin="round">*</text>
<text x="179.4" y="619.8" text-anchor="middle" font-size="16.8" font-weight="bold" font-family="'DejaVu Sans', sans-serif" fill="#fff" stroke="#fff" stroke-width="1" stroke-linejoin="round">*</text>
<text x="211.4" y="619.8" text-anchor="middle" font-size="16.8" font-weight="bold" font-family="'DejaVu Sans', sans-serif" fill="#fff" stroke="#fff" stroke-width="1" stroke-linejoin="round">*</text>
<text x="243.5" y="619.8" text-anchor="middle" font-size="16.8" font-weight="bold" font-family="'DejaVu Sans', sans-serif" fill="#fff" stroke="#fff" stroke-width="1" stroke-linejoin="round">*</text>
<text x="403.9" y="619.8" text-anchor="middle" font-size="16.8" font-weight="bold" font-family="'DejaVu Sans', sans-serif" fill="#fff" stroke="#fff" stroke-width="1" stroke-linejoin="round">*</text>
<text class="k" x="124.0" y="618.0" text-anchor="end" font-size="16.3" fill="#000">POA</text>
<text class="k" x="124.0" y="643.3" text-anchor="end" font-size="16.3" fill="#000">Vc</text>
<text x="532.1" y="670.0" text-anchor="middle" font-size="16.8" font-weight="bold" font-family="'DejaVu Sans', sans-serif" fill="#fff" stroke="#fff" stroke-width="1" stroke-linejoin="round">*</text>
<text class="k" x="124.0" y="668.6" text-anchor="end" font-size="16.3" fill="#000">Dl-v2</text>
<text x="500.1" y="695.1" text-anchor="middle" font-size="16.8" font-weight="bold" font-family="'DejaVu Sans', sans-serif" fill="#fff" stroke="#fff" stroke-width="1" stroke-linejoin="round">*</text>
<text class="k" x="124.0" y="694.0" text-anchor="end" font-size="16.3" fill="#000">Dc-5</text>
<text x="147.3" y="720.2" text-anchor="middle" font-size="16.8" font-weight="bold" font-family="'DejaVu Sans', sans-serif" fill="#fff" stroke="#fff" stroke-width="1" stroke-linejoin="round">*</text>
<text x="179.4" y="720.2" text-anchor="middle" font-size="16.8" font-weight="bold" font-family="'DejaVu Sans', sans-serif" fill="#fff" stroke="#fff" stroke-width="1" stroke-linejoin="round">*</text>
<text x="211.4" y="720.2" text-anchor="middle" font-size="16.8" font-weight="bold" font-family="'DejaVu Sans', sans-serif" fill="#fff" stroke="#fff" stroke-width="1" stroke-linejoin="round">*</text>
<text x="243.5" y="720.2" text-anchor="middle" font-size="16.8" font-weight="bold" font-family="'DejaVu Sans', sans-serif" fill="#fff" stroke="#fff" stroke-width="1" stroke-linejoin="round">*</text>
<text x="275.6" y="720.2" text-anchor="middle" font-size="16.8" font-weight="bold" font-family="'DejaVu Sans', sans-serif" fill="#fff" stroke="#fff" stroke-width="1" stroke-linejoin="round">*</text>
<text x="307.6" y="720.2" text-anchor="middle" font-size="16.8" font-weight="bold" font-family="'DejaVu Sans', sans-serif" fill="#fff" stroke="#fff" stroke-width="1" stroke-linejoin="round">*</text>
<text x="339.7" y="720.2" text-anchor="middle" font-size="16.8" font-weight="bold" font-family="'DejaVu Sans', sans-serif" fill="#fff" stroke="#fff" stroke-width="1" stroke-linejoin="round">*</text>
<text class="k" x="124.0" y="719.3" text-anchor="end" font-size="16.3" fill="#000">SR</text>
<path d="M133.8 376.65000000000003L578.8199999999999 723.45" stroke="#2a0306" stroke-width="1.7" stroke-dasharray="6.2 4.2" fill="none"/>
<rect x="129.3" y="373.05" width="450.52" height="351.40" fill="none" stroke="#000" stroke-width="2.3"/>
<rect x="129.30" y="765.10" width="32.48" height="24.95" fill="#cb0d15" shape-rendering="crispEdges"/>
<rect x="161.48" y="765.10" width="32.48" height="24.95" fill="#cc121a" shape-rendering="crispEdges"/>
<rect x="193.66" y="765.10" width="32.48" height="24.95" fill="#cc121a" shape-rendering="crispEdges"/>
<rect x="225.84" y="765.10" width="32.48" height="24.95" fill="#cb0d15" shape-rendering="crispEdges"/>
<rect x="258.02" y="765.10" width="32.48" height="24.95" fill="#d53d44" shape-rendering="crispEdges"/>
<rect x="290.20" y="765.10" width="32.48" height="24.95" fill="#da545a" shape-rendering="crispEdges"/>
<rect x="322.38" y="765.10" width="32.48" height="24.95" fill="#ce1f26" shape-rendering="crispEdges"/>
<rect x="354.56" y="765.10" width="32.48" height="24.95" fill="#d0262d" shape-rendering="crispEdges"/>
<rect x="386.74" y="765.10" width="32.48" height="24.95" fill="#cd1a21" shape-rendering="crispEdges"/>
<rect x="418.92" y="765.10" width="32.48" height="24.95" fill="#d0262d" shape-rendering="crispEdges"/>
<rect x="451.10" y="765.10" width="32.48" height="24.95" fill="#f7fafd" shape-rendering="crispEdges"/>
<rect x="483.28" y="765.10" width="32.48" height="24.95" fill="#e9999c" shape-rendering="crispEdges"/>
<rect x="515.46" y="765.10" width="32.48" height="24.95" fill="#a2c6e7" shape-rendering="crispEdges"/>
<rect x="547.64" y="765.10" width="32.48" height="24.95" fill="#3b88cd" shape-rendering="crispEdges"/>
<rect x="129.30" y="789.75" width="32.48" height="24.95" fill="#3181ca" shape-rendering="crispEdges"/>
<rect x="161.48" y="789.75" width="32.48" height="24.95" fill="#3684cc" shape-rendering="crispEdges"/>
<rect x="193.66" y="789.75" width="32.48" height="24.95" fill="#458ecf" shape-rendering="crispEdges"/>
<rect x="225.84" y="789.75" width="32.48" height="24.95" fill="#3684cc" shape-rendering="crispEdges"/>
<rect x="258.02" y="789.75" width="32.48" height="24.95" fill="#64a1d7" shape-rendering="crispEdges"/>
<rect x="290.20" y="789.75" width="32.48" height="24.95" fill="#71a9db" shape-rendering="crispEdges"/>
<rect x="322.38" y="789.75" width="32.48" height="24.95" fill="#458ecf" shape-rendering="crispEdges"/>
<rect x="354.56" y="789.75" width="32.48" height="24.95" fill="#64a1d7" shape-rendering="crispEdges"/>
<rect x="386.74" y="789.75" width="32.48" height="24.95" fill="#287cc8" shape-rendering="crispEdges"/>
<rect x="418.92" y="789.75" width="32.48" height="24.95" fill="#287cc8" shape-rendering="crispEdges"/>
<rect x="451.10" y="789.75" width="32.48" height="24.95" fill="#f4ccce" shape-rendering="crispEdges"/>
<rect x="483.28" y="789.75" width="32.48" height="24.95" fill="#eba1a4" shape-rendering="crispEdges"/>
<rect x="515.46" y="789.75" width="32.48" height="24.95" fill="#d84d52" shape-rendering="crispEdges"/>
<rect x="547.64" y="789.75" width="32.48" height="24.95" fill="#dd6166" shape-rendering="crispEdges"/>
<text x="147.3" y="785.7" text-anchor="middle" font-size="16.8" font-weight="bold" font-family="'DejaVu Sans', sans-serif" fill="#fff" stroke="#fff" stroke-width="1" stroke-linejoin="round">*</text>
<text x="179.4" y="785.7" text-anchor="middle" font-size="16.8" font-weight="bold" font-family="'DejaVu Sans', sans-serif" fill="#fff" stroke="#fff" stroke-width="1" stroke-linejoin="round">*</text>
<text x="211.4" y="785.7" text-anchor="middle" font-size="16.8" font-weight="bold" font-family="'DejaVu Sans', sans-serif" fill="#fff" stroke="#fff" stroke-width="1" stroke-linejoin="round">*</text>
<text x="243.5" y="785.7" text-anchor="middle" font-size="16.8" font-weight="bold" font-family="'DejaVu Sans', sans-serif" fill="#fff" stroke="#fff" stroke-width="1" stroke-linejoin="round">*</text>
<text x="275.6" y="785.7" text-anchor="middle" font-size="16.8" font-weight="bold" font-family="'DejaVu Sans', sans-serif" fill="#fff" stroke="#fff" stroke-width="1" stroke-linejoin="round">*</text>
<text x="339.7" y="785.7" text-anchor="middle" font-size="16.8" font-weight="bold" font-family="'DejaVu Sans', sans-serif" fill="#fff" stroke="#fff" stroke-width="1" stroke-linejoin="round">*</text>
<text x="371.8" y="785.7" text-anchor="middle" font-size="16.8" font-weight="bold" font-family="'DejaVu Sans', sans-serif" fill="#fff" stroke="#fff" stroke-width="1" stroke-linejoin="round">*</text>
<text x="403.9" y="785.7" text-anchor="middle" font-size="16.8" font-weight="bold" font-family="'DejaVu Sans', sans-serif" fill="#fff" stroke="#fff" stroke-width="1" stroke-linejoin="round">*</text>
<text x="435.9" y="785.7" text-anchor="middle" font-size="16.8" font-weight="bold" font-family="'DejaVu Sans', sans-serif" fill="#fff" stroke="#fff" stroke-width="1" stroke-linejoin="round">*</text>
<text x="564.2" y="785.7" text-anchor="middle" font-size="16.8" font-weight="bold" font-family="'DejaVu Sans', sans-serif" fill="#fff" stroke="#fff" stroke-width="1" stroke-linejoin="round">*</text>
<text class="k" x="122.0" y="782.9" text-anchor="end" font-size="16.3" fill="#000">Searching</text>
<text x="147.3" y="810.4" text-anchor="middle" font-size="16.8" font-weight="bold" font-family="'DejaVu Sans', sans-serif" fill="#fff" stroke="#fff" stroke-width="1" stroke-linejoin="round">*</text>
<text x="179.4" y="810.4" text-anchor="middle" font-size="16.8" font-weight="bold" font-family="'DejaVu Sans', sans-serif" fill="#fff" stroke="#fff" stroke-width="1" stroke-linejoin="round">*</text>
<text x="211.4" y="810.4" text-anchor="middle" font-size="16.8" font-weight="bold" font-family="'DejaVu Sans', sans-serif" fill="#fff" stroke="#fff" stroke-width="1" stroke-linejoin="round">*</text>
<text x="243.5" y="810.4" text-anchor="middle" font-size="16.8" font-weight="bold" font-family="'DejaVu Sans', sans-serif" fill="#fff" stroke="#fff" stroke-width="1" stroke-linejoin="round">*</text>
<text x="339.7" y="810.4" text-anchor="middle" font-size="16.8" font-weight="bold" font-family="'DejaVu Sans', sans-serif" fill="#fff" stroke="#fff" stroke-width="1" stroke-linejoin="round">*</text>
<text x="403.9" y="810.4" text-anchor="middle" font-size="16.8" font-weight="bold" font-family="'DejaVu Sans', sans-serif" fill="#fff" stroke="#fff" stroke-width="1" stroke-linejoin="round">*</text>
<text x="435.9" y="810.4" text-anchor="middle" font-size="16.8" font-weight="bold" font-family="'DejaVu Sans', sans-serif" fill="#fff" stroke="#fff" stroke-width="1" stroke-linejoin="round">*</text>
<text class="k" x="122.0" y="807.4" text-anchor="end" font-size="16.3" fill="#000">Freezing/Hiding</text>
<rect x="129.3" y="765.1" width="450.52" height="49.30" fill="none" stroke="#000" stroke-width="2.3"/>
<defs><linearGradient id="cb" x1="0" y1="0" x2="0" y2="1"><stop offset="0" stop-color="#d00a12"/><stop offset="0.25" stop-color="#e36d72"/><stop offset="0.5" stop-color="#ffffff"/><stop offset="0.75" stop-color="#8ab8e2"/><stop offset="1" stop-color="#2c7ac6"/></linearGradient></defs>
<rect x="593" y="372.5" width="24.5" height="189.5" fill="url(#cb)" stroke="#000" stroke-width="2.1"/>
<text class="k" x="604.2" y="390.2" text-anchor="middle" font-size="17" fill="#000">1</text>
<text class="k" x="604" y="557" text-anchor="middle" font-size="17" fill="#000">-1</text>
<path d="M935.5 12.6V409.8M736.8 211.2H1134.2" stroke="#555" stroke-width="1.1" fill="none"/>
<rect x="736.8" y="12.6" width="397.4" height="397.2" fill="none" stroke="#000" stroke-width="2.2"/>
<path d="M727.3 12.6H736.8M730.8 62.2H736.8M727.3 111.9H736.8M730.8 161.6H736.8M727.3 211.2H736.8M730.8 260.9H736.8M727.3 310.5H736.8M730.8 360.2H736.8M727.3 409.8H736.8M736.8 409.8V419.3M786.5 409.8V415.8M836.1 409.8V419.3M885.8 409.8V415.8M935.5 409.8V419.3M985.2 409.8V415.8M1034.8 409.8V419.3M1084.5 409.8V415.8M1134.2 409.8V419.3" stroke="#000" stroke-width="2" fill="none"/>
<text class="k" transform="translate(722.8 18.0) scale(1.08 1)" text-anchor="end" font-size="15.3" fill="#000">10</text>
<text class="k" transform="translate(722.8 117.3) scale(1.08 1)" text-anchor="end" font-size="15.3" fill="#000">5</text>
<text class="k" transform="translate(722.8 216.6) scale(1.08 1)" text-anchor="end" font-size="15.3" fill="#000">0</text>
<text class="k" transform="translate(722.8 315.9) scale(1.08 1)" text-anchor="end" font-size="15.3" fill="#000">-5</text>
<text class="k" transform="translate(722.8 415.2) scale(1.08 1)" text-anchor="end" font-size="15.3" fill="#000">-10</text>
<text class="k" transform="translate(734.0 436.3) scale(1.08 1)" text-anchor="middle" font-size="15.3" fill="#000">-20</text>
<text class="k" transform="translate(833.4 436.3) scale(1.08 1)" text-anchor="middle" font-size="15.3" fill="#000">-10</text>
<text class="k" transform="translate(935.5 436.3) scale(1.08 1)" text-anchor="middle" font-size="15.3" fill="#000">0</text>
<text class="k" transform="translate(1034.8 436.3) scale(1.08 1)" text-anchor="middle" font-size="15.3" fill="#000">10</text>
<text class="k" transform="translate(1134.2 436.3) scale(1.08 1)" text-anchor="middle" font-size="15.3" fill="#000">20</text>
<text class="k" x="919.5" y="459" text-anchor="middle" font-size="23" fill="#000">Function1</text>
<text class="k" transform="translate(696.5 206) rotate(-90)" text-anchor="middle" font-size="23" fill="#000">Function 2</text>
<text x="747.5" y="339.3" font-size="19.5" font-weight="bold" fill="#333">Control</text>
<text x="747.5" y="360.0" font-size="19.5" font-weight="bold" fill="#eeee33">Day 2</text>
<text x="747.5" y="380.7" font-size="19.5" font-weight="bold" fill="#ee4f5a">Day 3</text>
<text x="747.5" y="401.4" font-size="19.5" font-weight="bold" fill="#4660e0">Day 4</text>
<circle cx="759.9" cy="122.1" r="5.45" fill="#4f64f0" stroke="#000" stroke-width="2.35"/>
<circle cx="756.7" cy="135.5" r="5.45" fill="#4f64f0" stroke="#000" stroke-width="2.35"/>
<circle cx="772" cy="136" r="5.45" fill="#4f64f0" stroke="#000" stroke-width="2.35"/>
<circle cx="762.7" cy="153.7" r="5.45" fill="#4f64f0" stroke="#000" stroke-width="2.35"/>
<polygon points="762.6,129.5 765.3,136.1 772.4,136.6 767.0,141.2 768.7,148.1 762.6,144.4 756.5,148.1 758.2,141.2 752.8,136.6 759.9,136.1" fill="#4f64f0" stroke="#000" stroke-width="2.1" stroke-linejoin="miter"/>
<circle cx="1047.6" cy="79.4" r="5.45" fill="#fb5560" stroke="#000" stroke-width="2.35"/>
<circle cx="1067.6" cy="70.6" r="5.45" fill="#fb5560" stroke="#000" stroke-width="2.35"/>
<circle cx="1069.1" cy="95.3" r="5.45" fill="#fb5560" stroke="#000" stroke-width="2.35"/>
<circle cx="1089.4" cy="92.6" r="5.45" fill="#fb5560" stroke="#000" stroke-width="2.35"/>
<polygon points="1068.4,77.9 1071.1,84.5 1078.2,85.0 1072.8,89.6 1074.5,96.5 1068.4,92.8 1062.3,96.5 1064.0,89.6 1058.6,85.0 1065.7,84.5" fill="#fb5560" stroke="#000" stroke-width="2.1" stroke-linejoin="miter"/>
<circle cx="951.5" cy="272" r="5.45" fill="#3c3c3c" stroke="#000" stroke-width="2.35"/>
<circle cx="947.1" cy="281.5" r="5.45" fill="#f0f034" stroke="#000" stroke-width="2.35"/>
<circle cx="952.6" cy="335.1" r="5.45" fill="#3c3c3c" stroke="#000" stroke-width="2.35"/>
<circle cx="939.8" cy="373.6" r="5.45" fill="#3c3c3c" stroke="#000" stroke-width="2.35"/>
<circle cx="939.4" cy="387.7" r="5.45" fill="#3c3c3c" stroke="#000" stroke-width="2.35"/>
<circle cx="956.2" cy="296.1" r="5.45" fill="#f0f034" stroke="#000" stroke-width="2.35"/>
<polygon points="963.9,297.3 966.6,303.9 973.7,304.4 968.3,309.0 970.0,315.9 963.9,312.2 957.8,315.9 959.5,309.0 954.1,304.4 961.2,303.9" fill="#f0f034" stroke="#000" stroke-width="2.1" stroke-linejoin="miter"/>
<circle cx="978.9" cy="318.6" r="5.45" fill="#f0f034" stroke="#000" stroke-width="2.35"/>
<polygon points="947.5,314.3 950.2,320.9 957.3,321.4 951.9,326.0 953.6,332.9 947.5,329.2 941.4,332.9 943.1,326.0 937.7,321.4 944.8,320.9" fill="#3c3c3c" stroke="#000" stroke-width="2.1" stroke-linejoin="miter"/>
<circle cx="959.4" cy="326.9" r="5.45" fill="#f0f034" stroke="#000" stroke-width="2.35"/>
<path d="M814.2 598.8C813.6 597.1 812.1 592.2 810.6 588.6C809.1 585.0 807.4 580.8 805.4 576.9C803.4 573.0 801.3 568.8 798.8 565.1C796.2 561.4 793.3 557.8 790.1 554.9C786.9 552.0 783.5 549.7 779.8 547.6C776.1 545.5 772.0 543.6 768.1 542.4C764.2 541.2 760.1 540.5 756.4 540.2C752.7 539.9 749.3 540.0 746.1 540.5C742.9 541.0 740.0 541.9 737.3 542.9C734.6 543.9 732.1 545.3 730.0 546.8C727.9 548.3 726.5 550.0 724.9 552.0C723.3 554.0 721.7 556.2 720.5 558.6C719.3 561.0 718.2 563.8 717.6 566.6C717.0 569.4 717.1 572.5 716.9 575.4C716.7 578.3 717.1 581.5 716.6 584.2C716.1 586.9 715.2 589.1 713.9 591.5C712.6 593.9 710.6 596.4 708.8 598.8C707.0 601.2 704.8 603.4 702.9 606.1C701.0 608.8 698.9 612.0 697.1 614.9C695.3 617.8 693.5 620.8 692.0 623.7C690.5 626.6 689.2 629.6 688.3 632.5C687.4 635.4 686.9 638.7 686.6 641.3C686.4 643.9 686.6 646.0 686.8 648.0C687.0 650.0 687.3 651.2 687.9 653.2C688.5 655.2 689.1 657.6 690.1 659.8C691.1 662.0 692.4 664.2 693.9 666.4C695.4 668.6 697.4 670.7 699.4 672.9C701.4 675.1 703.8 677.4 706.0 679.5C708.2 681.6 710.6 683.9 712.6 685.6C714.6 687.4 716.3 688.7 718.1 690.0C719.9 691.3 721.6 692.5 723.6 693.3C725.6 694.1 728.1 694.8 730.1 694.9C732.1 695.0 733.8 694.6 735.6 693.8C737.4 693.0 739.3 691.1 741.1 690.0C742.9 688.9 744.6 687.9 746.6 687.4C748.6 686.9 751.0 686.7 753.2 686.7C755.4 686.7 757.6 686.9 759.8 687.4C762.0 687.9 764.3 688.6 766.4 689.6C768.5 690.6 771.4 692.7 772.4 693.3 M689.2 659.6C688.2 659.9 684.9 660.5 682.9 661.4C680.9 662.2 679.0 663.4 677.4 664.7C675.8 666.0 674.4 667.4 673.1 669.1C671.8 670.8 670.6 673.0 669.8 675.1C669.0 677.2 668.6 679.5 668.1 681.7C667.6 683.9 667.3 686.3 666.5 688.3C665.7 690.3 664.3 692.3 663.2 693.8C662.1 695.3 660.6 696.0 659.9 697.1C659.2 698.2 658.8 699.1 659.0 700.4C659.2 701.7 659.9 703.5 661.0 704.8C662.1 706.1 664.1 707.4 665.9 708.1C667.7 708.8 670.2 709.1 672.0 709.0C673.8 708.9 675.3 708.0 676.9 707.2C678.5 706.4 680.1 705.0 681.8 704.2C683.5 703.4 685.3 702.8 687.3 702.6C689.3 702.4 691.9 702.6 693.9 702.8C695.9 703.0 697.6 703.7 699.4 703.9C701.2 704.1 703.2 704.5 704.9 704.2C706.6 703.9 708.4 703.1 709.8 702.0C711.2 700.9 712.2 699.3 713.1 697.6C714.0 695.9 714.7 693.1 715.3 691.6C715.9 690.1 716.4 689.1 716.6 688.6 M804.4 671.5C802.9 673.0 799.0 677.5 795.6 680.3C792.2 683.1 787.7 686.1 783.9 688.3C780.1 690.5 776.1 691.8 772.9 693.4C769.7 695.0 766.7 696.3 764.9 697.8C763.1 699.3 762.2 700.5 762.0 702.2C761.8 703.9 761.7 705.8 763.4 708.1C765.1 710.4 768.8 713.3 772.2 716.1C775.6 718.9 780.0 722.5 783.9 724.9C787.8 727.3 791.9 729.4 795.6 730.8C799.3 732.2 802.7 733.2 805.9 733.4C809.1 733.6 812.1 733.0 814.7 732.2C817.3 731.4 819.6 729.7 821.3 728.6C823.0 727.5 823.6 726.9 824.9 725.7C826.2 724.5 827.6 722.5 829.3 721.3C831.0 720.1 833.2 719.0 835.2 718.3C837.2 717.6 840.0 717.1 841.0 716.9 M895.4 544.8C901.2 544.7 907.4 544.9 912.9 546.1C918.4 547.3 923.5 549.1 928.3 552.1C933.1 555.1 937.5 559.5 941.5 564.1C945.5 568.7 949.4 574.0 952.5 579.5C955.6 585.0 958.1 591.2 960.1 597.1C962.1 603.0 963.6 608.8 964.5 614.6C965.4 620.5 965.8 626.3 965.6 632.2C965.4 638.1 964.9 643.9 963.4 649.8C961.9 655.6 959.7 661.4 956.8 667.3C953.9 673.1 949.9 679.8 945.9 684.9C941.9 690.0 937.3 694.5 932.7 698.1C928.1 701.7 923.7 703.8 918.2 706.6C912.8 709.4 905.3 712.8 900.0 714.7C894.7 716.7 891.1 717.4 886.4 718.3C881.7 719.2 876.7 719.9 871.8 720.3C866.9 720.7 861.5 721.1 857.1 720.8C852.7 720.5 848.8 719.8 845.4 718.3C842.0 716.8 839.8 714.5 836.6 711.7C833.4 708.9 829.8 705.4 826.4 701.5C823.0 697.6 819.0 692.7 816.1 688.3C813.2 683.9 810.8 679.2 808.8 675.1C806.8 671.0 805.5 667.3 804.4 663.4C803.3 659.5 802.6 655.8 802.2 651.7C801.8 647.6 801.8 643.5 802.1 638.8C802.5 634.1 802.8 628.9 804.3 623.4C805.8 617.9 808.3 611.4 810.9 605.9C813.5 600.4 816.1 595.6 819.6 590.5C823.1 585.4 827.5 579.9 831.7 575.1C835.9 570.4 840.1 565.8 844.9 562.0C849.7 558.2 854.8 554.7 860.3 552.1C865.8 549.5 871.9 547.8 877.8 546.6C883.6 545.4 889.5 544.9 895.4 544.8Z M928.5 552.3C928.0 550.3 925.6 544.5 925.2 540.3C924.8 536.1 925.0 531.9 925.9 527.1C926.8 522.3 928.2 516.6 930.7 511.7C933.2 506.8 936.9 501.2 940.6 497.4C944.3 493.6 948.5 490.8 952.7 488.7C956.9 486.6 961.1 485.5 965.9 484.9C970.6 484.3 976.1 484.3 981.2 484.9C986.3 485.5 991.8 486.8 996.6 488.7C1001.4 490.6 1005.8 493.0 1009.8 496.3C1013.8 499.6 1017.6 504.0 1020.7 508.4C1023.8 512.8 1026.4 517.8 1028.4 522.7C1030.4 527.7 1031.8 533.0 1032.8 538.1C1033.8 543.2 1034.6 549.0 1034.4 553.4C1034.2 557.8 1033.2 561.6 1031.7 564.4C1030.2 567.1 1028.0 568.4 1025.1 569.9C1022.2 571.4 1017.1 571.9 1014.2 573.2C1011.3 574.5 1009.2 576.0 1007.6 577.6C1006.0 579.2 1004.8 582.2 1004.3 583.1 M1004.8 609.4C1004.4 608.7 1002.8 607.4 1002.2 605.0C1001.6 602.6 1001.0 598.6 1001.1 595.1C1001.2 591.6 1001.7 586.8 1002.6 584.1C1003.5 581.4 1004.5 580.1 1006.6 578.7C1008.7 577.3 1011.8 576.4 1015.4 575.8C1019.0 575.2 1023.8 574.8 1028.5 574.9C1033.2 575.0 1038.4 575.5 1043.9 576.5C1049.4 577.5 1056.0 579.1 1061.5 580.9C1067.0 582.7 1072.0 585.0 1076.8 587.4C1081.5 589.8 1086.3 592.5 1090.0 595.1C1093.7 597.7 1096.2 600.0 1098.8 602.8C1101.4 605.5 1102.8 609.0 1105.4 611.6C1108.0 614.2 1110.6 616.4 1114.2 618.2C1117.8 620.0 1122.2 621.1 1127.3 622.6C1132.4 624.1 1139.0 625.9 1144.9 627.0C1150.8 628.1 1156.7 629.0 1162.5 629.2C1168.3 629.5 1176.0 628.4 1180.0 628.5C1184.0 628.6 1185.1 628.8 1186.6 629.8C1188.1 630.8 1188.1 630.9 1188.8 634.6C1189.5 638.3 1189.9 646.3 1190.6 652.2C1191.3 658.1 1192.5 664.3 1193.2 669.8C1193.9 675.3 1194.7 680.7 1194.9 685.1C1195.1 689.5 1195.3 693.4 1194.3 696.1C1193.3 698.9 1190.8 700.5 1188.8 701.6C1186.8 702.7 1185.1 702.9 1182.2 702.7C1179.3 702.5 1176.0 701.3 1171.2 700.5C1166.5 699.7 1160.3 698.3 1153.7 697.9C1147.1 697.5 1139.0 697.8 1131.7 697.9C1124.4 698.0 1117.1 698.2 1109.8 698.3C1102.5 698.4 1094.0 698.5 1087.8 698.7C1081.6 698.9 1076.8 698.7 1072.4 699.4C1068.0 700.1 1065.5 701.4 1061.5 702.7C1057.5 704.0 1053.1 705.9 1048.3 707.1C1043.5 708.3 1038.0 709.1 1032.9 709.7C1027.8 710.3 1022.8 710.5 1017.6 710.5C1012.4 710.5 1006.8 710.1 1001.7 709.9C996.6 709.6 991.9 709.5 987.0 709.0C982.1 708.5 976.9 708.0 972.3 707.1C967.7 706.2 963.2 704.7 959.5 703.8C955.8 702.9 953.4 702.0 950.3 701.6C947.2 701.2 943.5 701.4 941.0 701.6C938.5 701.8 937.1 702.2 935.6 703.0C934.1 703.8 933.1 705.5 932.0 706.6C930.9 707.7 930.4 709.0 929.2 709.7C928.0 710.4 926.2 710.8 924.7 710.8C923.2 710.8 921.2 710.4 920.1 709.7C919.0 709.0 918.5 707.1 918.2 706.6 M825.7 725.8C826.0 727.0 826.9 730.5 827.5 733.2C828.1 736.0 828.6 738.9 829.3 742.3C830.0 745.6 830.7 749.9 831.5 753.3C832.3 756.7 833.0 759.8 833.9 762.5C834.8 765.2 835.5 767.3 836.7 769.8C837.9 772.2 839.5 774.8 841.3 777.2C843.1 779.7 845.4 782.1 847.7 784.5C850.0 786.9 852.4 789.5 855.0 791.8C857.6 794.1 860.5 796.4 863.3 798.3C866.0 800.2 868.6 801.9 871.5 803.2C874.4 804.5 877.3 805.4 880.7 806.1C884.1 806.8 888.0 807.3 891.7 807.4C895.4 807.5 899.4 807.3 902.7 806.5C906.1 805.7 908.8 804.3 911.8 802.8C914.8 801.3 917.6 799.1 921.0 797.3C924.4 795.5 928.3 793.9 932.0 791.8C935.7 789.7 939.6 787.2 943.0 784.5C946.4 781.8 949.5 778.3 952.2 775.3C955.0 772.2 957.2 769.6 959.5 766.2C961.8 762.9 964.1 758.9 965.9 755.2C967.7 751.5 969.3 747.9 970.5 744.2C971.7 740.5 972.8 736.6 973.3 733.2C973.8 729.8 973.8 726.9 973.3 724.0C972.8 721.1 971.9 718.4 970.5 715.8C969.1 713.2 967.1 710.4 965.0 708.4C962.9 706.4 960.2 704.6 957.7 703.5C955.2 702.4 951.5 701.9 950.3 701.6 M836.7 769.8C835.8 769.6 833.0 768.4 831.2 768.4C829.4 768.4 827.2 768.6 825.7 769.5C824.2 770.4 822.8 771.8 822.0 773.5C821.2 775.2 821.0 777.4 821.1 779.9C821.2 782.4 821.5 785.3 822.4 788.2C823.3 791.1 824.8 794.4 826.6 797.3C828.4 800.2 830.5 803.1 833.0 805.6C835.5 808.1 838.5 810.2 841.3 812.0C844.0 813.8 846.6 815.8 849.5 816.6C852.4 817.5 856.0 817.4 858.7 817.1C861.5 816.8 864.0 815.9 866.0 814.8C868.0 813.6 869.7 812.1 870.6 810.2C871.5 808.4 871.4 804.8 871.5 803.7" fill="none" stroke="#000" stroke-width="2.2" stroke-linecap="round" stroke-linejoin="round"/>
<ellipse cx="738.7" cy="575.5" rx="29.8" ry="12" fill="#f64f57" transform="rotate(-58 738.7 575.5)"/>
<text class="w" transform="translate(738.7 575.5) rotate(-58)" text-anchor="middle" font-size="16.3" fill="#fff" dy="5.9">Dm-3</text>
<ellipse cx="775.9" cy="586.2" rx="22.5" ry="13.7" fill="#f64f57"/>
<text class="w" transform="translate(775.9 586.2) rotate(0)" text-anchor="middle" font-size="16.3" fill="#fff" dy="5.9">Vs</text>
<ellipse cx="756" cy="611.2" rx="38.3" ry="8.9" fill="#8642a2"/>
<text class="w" transform="translate(756 611.2) rotate(0)" text-anchor="middle" font-size="16.3" fill="#fff" dy="5.9">Dl-v2</text>
<ellipse cx="716.4" cy="639.5" rx="17.3" ry="13.2" fill="#f64f57"/>
<text class="w" transform="translate(716.4 639.5) rotate(0)" text-anchor="middle" font-size="16.3" fill="#fff" dy="5.9">Vd</text>
<clipPath id="cdc"><circle cx="749.8" cy="635" r="12.6"/></clipPath>
<g clip-path="url(#cdc)"><rect x="730" y="615" width="40" height="40" fill="#8642a2"/><polygon points="754,621 745.2,647.5 745.2,660 775,660 775,621" fill="#5a5a5a"/></g>
<text class="w" transform="translate(749.8 635) rotate(0)" text-anchor="middle" font-size="16.3" fill="#fff" dy="5.9">Dc</text>
<clipPath id="cvv"><ellipse cx="727.4" cy="668.1" rx="20.5" ry="13.9"/></clipPath>
<g clip-path="url(#cvv)"><rect x="700" y="650" width="60" height="40" fill="#f64f57"/><rect x="727.6" y="650" width="30" height="40" fill="#5a5a5a"/></g>
<text class="w" transform="translate(727.4 668.1) rotate(0)" text-anchor="middle" font-size="16.3" fill="#fff" dy="5.9">Vv</text>
<ellipse cx="764.4" cy="667" rx="13.4" ry="15" fill="#f64f57"/>
<text class="w" transform="translate(764.4 667) rotate(0)" text-anchor="middle" font-size="16.3" fill="#fff" dy="5.9">Vc</text>
<ellipse cx="789.8" cy="659.9" rx="11" ry="16.7" fill="#f64f57" transform="rotate(-22 789.8 659.9)"/>
<text class="w" transform="translate(789.8 659.9) rotate(14)" text-anchor="middle" font-size="16.3" fill="#fff" dy="5.9">Vp</text>
<ellipse cx="835.2" cy="683.5" rx="27.6" ry="10" fill="#5a5a5a" transform="rotate(51.5 835.2 683.5)"/>
<text class="w" transform="translate(835.2 683.5) rotate(51.5)" text-anchor="middle" font-size="16.3" fill="#fff" dy="5.9">POAp</text>
<ellipse cx="877.8" cy="679.4" rx="23.4" ry="11.5" fill="#f64f57"/>
<text class="w" transform="translate(877.8 679.4) rotate(0)" text-anchor="middle" font-size="16.3" fill="#fff" dy="5.9">TPp</text>
<ellipse cx="876.1" cy="771.7" rx="21.3" ry="16.3" fill="#f64f57"/>
<text class="w" transform="translate(876.1 771.7) rotate(0)" text-anchor="middle" font-size="16.3" fill="#fff" dy="5.9">ATn</text>
<clipPath id="csr"><ellipse cx="998" cy="651.7" rx="10.8" ry="20.9"/></clipPath>
<g clip-path="url(#csr)"><rect x="980" y="625" width="40" height="55" fill="#8642a2"/><polygon points="1004.5,628 991.8,668.8 988,680 1015,680 1015,628" fill="#4696d8"/></g>
<text class="w" transform="translate(998 651.7) rotate(0)" text-anchor="middle" font-size="16.3" fill="#fff" dy="5.9">SR</text>
<text class="k" transform="translate(687.8 688.3) rotate(0)" text-anchor="middle" font-size="16.3" fill="#000" dy="5.9">OB</text>
<text class="k" transform="translate(800 708.8) rotate(0)" text-anchor="middle" font-size="16.3" fill="#000" dy="5.9">ON</text>
<text class="k" transform="translate(889.5 571.4) rotate(0)" text-anchor="middle" font-size="16.3" fill="#000" dy="5.9">Tectum</text>
<text class="k" transform="translate(980.1 534.8) rotate(0)" text-anchor="middle" font-size="16.3" fill="#000" dy="5.9">Cerebellum</text>
<text class="k" transform="translate(1042.7 597.3) rotate(0)" text-anchor="middle" font-size="16.3" fill="#000" dy="5.9">Medulla</text>
<text class="k" transform="translate(1171.9 669.1) rotate(0)" text-anchor="middle" font-size="16.3" fill="#000" dy="5.9">SC</text>
<text class="k" transform="translate(901.4 738.3) rotate(0)" text-anchor="middle" font-size="16.3" fill="#000" dy="5.9">Hypothalamus</text>
<text class="k" transform="translate(842.5 794.6) rotate(0)" text-anchor="middle" font-size="16.3" fill="#000" dy="5.9">P</text>
<text class="k" transform="translate(697.4 585.2) rotate(-63)" text-anchor="middle" font-size="16.7" fill="#000" dy="6.0">Telencephalon</text>
</svg>
</body></html>
